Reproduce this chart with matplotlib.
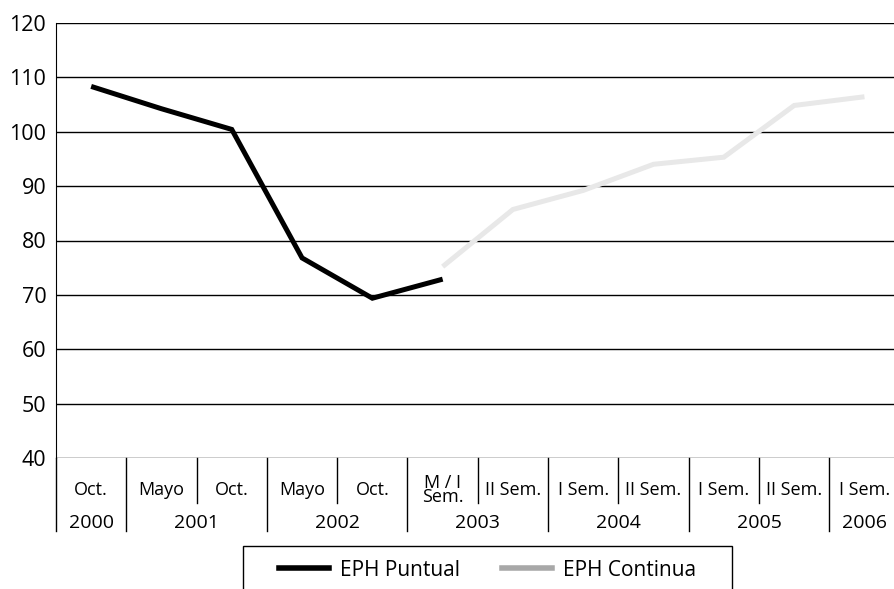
import matplotlib.pyplot as plt
from matplotlib.lines import Line2D
from matplotlib.patches import Rectangle
import matplotlib.transforms as mtransforms

plt.rcParams['font.family'] = ['Open Sans', 'DejaVu Sans']

# datos
categorias = ['Oct.', 'Mayo', 'Oct.', 'Mayo', 'Oct.', 'M / I\nSem.',
              'II Sem.', 'I Sem.', 'II Sem.', 'I Sem.', 'II Sem.', 'I Sem.']
anios = ['2000', '2001', '2002', '2003', '2004', '2005', '2006']
anio_grupos = [1, 2, 2, 2, 2, 2, 1]  # cantidad de categorias por año

eph_puntual = [108.3, 104.2, 100.4, 76.8, 69.4, 72.9]
eph_continua = [75.2, 85.7, 89.2, 94.0, 95.3, 104.8, 106.4]
x_puntual = list(range(0, 6))
x_continua = list(range(5, 12))

fig = plt.figure(figsize=(8.95, 5.89), dpi=100)
ax = fig.add_axes([56 / 895, (589 - 458.3) / 589, 843.6 / 895, 435.6 / 589])

ax.plot(x_puntual, eph_puntual, color='black', lw=3.6, solid_capstyle='butt',
        solid_joinstyle='miter', zorder=3)
ax.plot(x_continua, eph_continua, color='#e8e8e8', lw=3.6, solid_capstyle='butt',
        solid_joinstyle='miter', zorder=3)

ax.set_xlim(-0.5, 11.5)
ax.set_ylim(40, 120)
ax.set_yticks(range(40, 121, 10))
ax.yaxis.grid(True, color='black', lw=1)
ax.set_axisbelow(True)
ax.tick_params(axis='y', length=0, pad=7, labelsize=15.5)
ax.set_xticks([])
for s in ['top', 'right', 'bottom']:
    ax.spines[s].set_visible(False)
ax.spines['left'].set_bounds(40, 120)

trans = mtransforms.blended_transform_factory(ax.transData, ax.transAxes)

# separadores y etiquetas del eje x
limites_anio = [-0.5]
acc = -0.5
for n in anio_grupos:
    acc += n
    limites_anio.append(acc)
for b in [i + 0.5 for i in range(-1, 12)]:
    largo = -0.166 if b in limites_anio else -0.1026
    ax.plot([b, b], [0, largo], color='black', lw=1, transform=trans, clip_on=False)

for i, c in enumerate(categorias):
    ax.text(i, -0.0728, c, transform=trans, ha='center', va='center',
            fontsize=13, linespacing=0.72)

inicio = 0
for a, n in zip(anios, anio_grupos):
    centro = inicio + (n - 1) / 2
    ax.text(centro, -0.1486, a, transform=trans, ha='center', va='center', fontsize=14)
    inicio += n

# leyenda
fig.patches.append(Rectangle((243 / 895, -0.05), (732 - 243) / 895, 1 - 546 / 589 + 0.05,
                             transform=fig.transFigure, fill=False, ec='black', lw=1))
handles = [Line2D([], [], color='black', lw=4),
           Line2D([], [], color='#a8a8a8', lw=4)]
fig.legend(handles, ['EPH Puntual', 'EPH Continua'], loc='center',
           bbox_to_anchor=(487.5 / 895, 1 - 570 / 589), ncol=2, frameon=False,
           fontsize=15, handlelength=2.4, handletextpad=0.53, columnspacing=2.0)

fig.savefig('out.png', dpi=100)
